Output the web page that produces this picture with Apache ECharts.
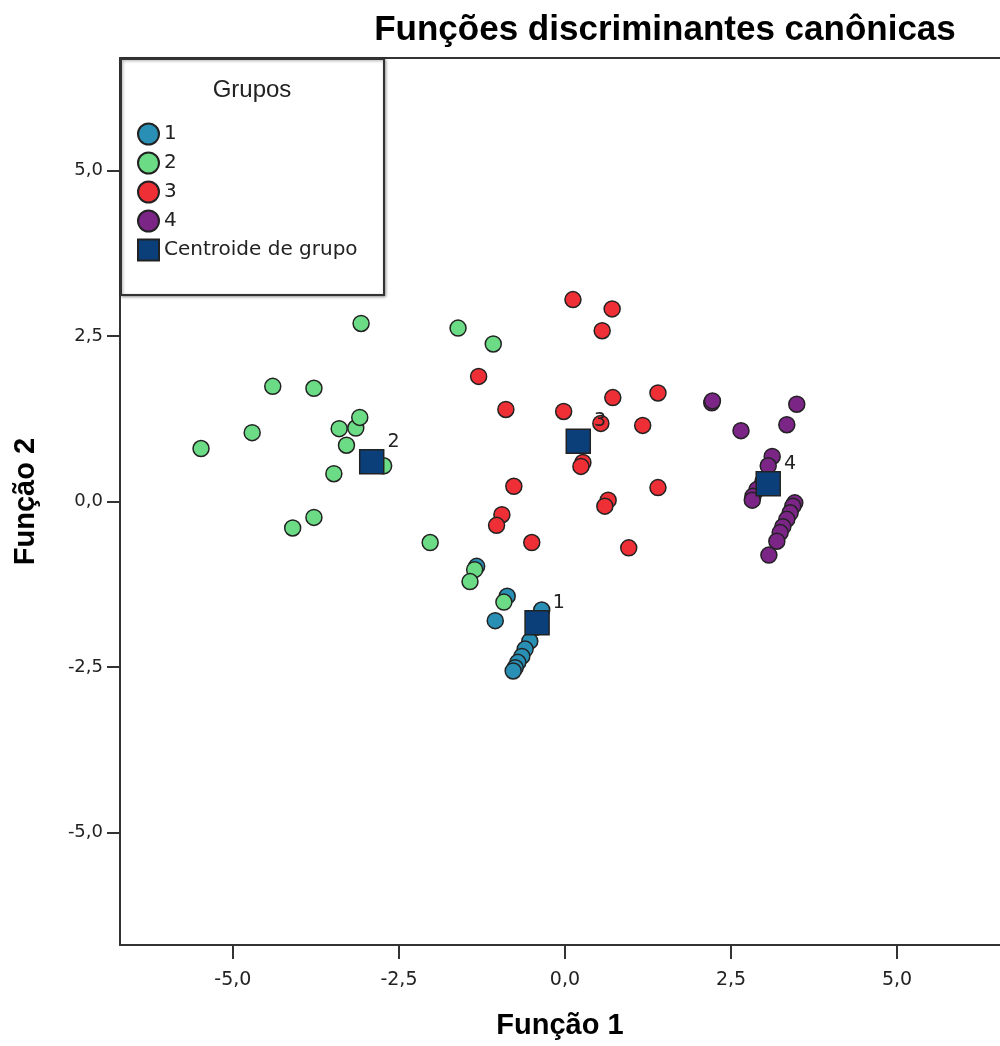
<!DOCTYPE html>
<html>
<head>
<meta charset="utf-8">
<script src="https://cdn.jsdelivr.net/npm/echarts@6/dist/echarts.min.js"></script>
<style>
  html, body { margin: 0; padding: 0; background: #fff; }
  #main { width: 1000px; height: 1046px; }
</style>
</head>
<body>
<div id="main"></div>
<script>
// dados (Função 1, Função 2)
var grupo1 = [[-1.33, -0.98], [-0.87, -1.43], [-1.05, -1.80], [-0.35, -1.64], [-0.44, -1.90],
  [-0.53, -2.11], [-0.60, -2.23], [-0.65, -2.34], [-0.71, -2.43], [-0.75, -2.51], [-0.78, -2.56]];
var grupo2 = [[-5.48, 0.80], [-4.71, 1.04], [-4.40, 1.74], [-4.10, -0.40], [-3.78, 1.71],
  [-3.78, -0.24], [-3.48, 0.42], [-3.40, 1.10], [-3.29, 0.85], [-3.15, 1.11], [-3.09, 1.27],
  [-3.07, 2.69], [-2.73, 0.54], [-2.03, -0.62], [-1.61, 2.62], [-1.08, 2.38], [-1.36, -1.03],
  [-1.43, -1.21], [-0.92, -1.52]];
var grupo3 = [[0.12, 3.05], [0.71, 2.91], [0.56, 2.58], [-1.30, 1.89], [-0.89, 1.39], [-0.02, 1.36],
  [0.72, 1.57], [1.40, 1.64], [0.54, 1.18], [1.17, 1.15], [0.27, 0.59], [0.24, 0.53], [-0.77, 0.23],
  [1.40, 0.21], [0.65, 0.02], [0.60, -0.07], [-0.95, -0.20], [-1.03, -0.36], [-0.50, -0.62], [0.96, -0.70]];
var grupo4 = [[2.21, 1.49], [2.22, 1.52], [3.49, 1.47], [2.65, 1.07], [3.34, 1.16], [3.12, 0.68],
  [3.06, 0.54], [2.98, 0.30], [2.89, 0.18], [2.83, 0.08], [2.82, 0.02], [3.46, -0.02], [3.43, -0.07],
  [3.39, -0.17], [3.34, -0.27], [3.28, -0.38], [3.24, -0.47], [3.19, -0.60], [3.07, -0.81]];
var centroides = [[-0.42, -1.83], [-2.91, 0.60], [0.20, 0.91], [3.06, 0.27]];
var rotulosCentroides = ['1', '2', '3', '4'];
var marcas = [-5, -2.5, 0, 2.5, 5];

var nomesGrupos = ['1', '2', '3', '4'];
var coresGrupos = ['#2a8fb4', '#6bdc85', '#ee2f36', '#7b2587'];
var dadosGrupos = [grupo1, grupo2, grupo3, grupo4];

function fmt(v) {
  return v.toFixed(1).replace('.', ',');
}

var series = [];
for (var i = 0; i < dadosGrupos.length; i++) {
  series.push({
    name: nomesGrupos[i],
    type: 'scatter',
    symbol: 'circle',
    symbolSize: 16,
    itemStyle: { color: coresGrupos[i], borderColor: '#222', borderWidth: 1.5, opacity: 1 },
    data: dadosGrupos[i],
    z: 2
  });
}
series.push({
  name: 'Centroide de grupo',
  type: 'scatter',
  symbol: 'rect',
  symbolSize: 24,
  itemStyle: { color: '#0b3f7a', borderColor: '#222', borderWidth: 1.5, opacity: 1 },
  label: {
    show: true,
    position: 'right',
    distance: 3,
    offset: [0, -20],
    color: '#222',
    fontSize: 19,
    fontFamily: 'DejaVu Sans',
    formatter: function (p) { return rotulosCentroides[p.dataIndex]; }
  },
  data: centroides,
  z: 3
});

var chart = echarts.init(document.getElementById('main'));
chart.setOption({
  animation: false,
  backgroundColor: '#fff',
  title: {
    text: 'Funções discriminantes canônicas',
    left: 665,
    top: 13,
    padding: 0,
    textAlign: 'center',
    textStyle: { fontFamily: 'Liberation Sans', fontWeight: 'bold', fontSize: 35, color: '#000' }
  },
  grid: { left: 120, right: 0, top: 58, bottom: 101 },
  graphic: [
    {
      type: 'rect',
      shape: { x: 121, y: 59, width: 263, height: 236 },
      style: { fill: '#fff', stroke: '#333', lineWidth: 2, shadowBlur: 3, shadowOffsetX: 1, shadowOffsetY: 1, shadowColor: 'rgba(0,0,0,0.35)' },
      z: 10
    },
    {
      type: 'text',
      x: 252,
      y: 90,
      style: { text: 'Grupos', fill: '#222', font: '24px "Liberation Sans"', align: 'center', verticalAlign: 'middle' },
      z: 11
    }
  ],
  legend: {
    orient: 'vertical',
    left: 137,
    top: 122,
    padding: 0,
    itemWidth: 21,
    itemHeight: 21,
    itemGap: 5,
    z: 12,
    data: ['1', '2', '3', '4', 'Centroide de grupo'],
    textStyle: { fontFamily: 'DejaVu Sans', fontSize: 20, color: '#222', lineHeight: 24 }
  },
  xAxis: [
    {
      type: 'value',
      position: 'bottom',
      min: -6.7,
      max: 6.55,
      name: 'Função 1',
      nameLocation: 'middle',
      nameGap: 66,
      nameTextStyle: { fontFamily: 'Liberation Sans', fontWeight: 'bold', fontSize: 29, color: '#000' },
      axisLine: { show: true, onZero: false, lineStyle: { color: '#333', width: 2 } },
      axisTick: { show: true, inside: false, length: 14, customValues: marcas, lineStyle: { color: '#333', width: 2 } },
      axisLabel: { show: true, customValues: marcas, margin: 26, formatter: fmt, fontFamily: 'DejaVu Sans', fontSize: 19, color: '#222' },
      splitLine: { show: false }
    },
    {
      type: 'value',
      position: 'top',
      min: -6.7,
      max: 6.55,
      axisLine: { show: true, onZero: false, lineStyle: { color: '#333', width: 2 } },
      axisTick: { show: false },
      axisLabel: { show: false },
      splitLine: { show: false }
    }
  ],
  yAxis: {
    type: 'value',
    min: -6.7,
    max: 6.7,
    name: 'Função 2',
    nameLocation: 'middle',
    nameGap: 80,
    nameTextStyle: { fontFamily: 'Liberation Sans', fontWeight: 'bold', fontSize: 29, color: '#000' },
    axisLine: { show: true, onZero: false, lineStyle: { color: '#333', width: 2 } },
    axisTick: { show: true, inside: false, length: 13, customValues: marcas, lineStyle: { color: '#333', width: 2 } },
    axisLabel: { show: true, customValues: marcas, margin: 17, formatter: fmt, fontFamily: 'DejaVu Sans', fontSize: 18, color: '#222' },
    splitLine: { show: false }
  },
  series: series
});
</script>
</body>
</html>
